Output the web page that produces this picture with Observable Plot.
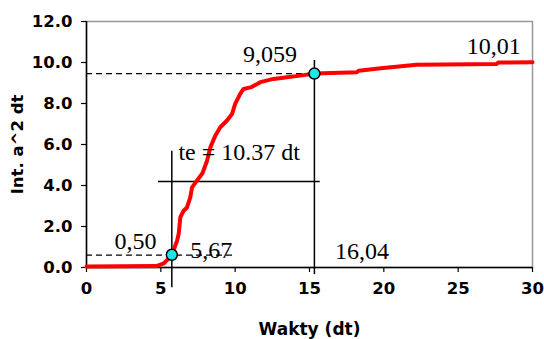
<!DOCTYPE html>
<html><head><meta charset="utf-8">
<script src="https://cdn.jsdelivr.net/npm/d3@7"></script>
<script src="https://cdn.jsdelivr.net/npm/@observablehq/plot@0.6"></script>
<style>body{margin:0;background:#fff}</style>
</head><body><div id="chart"></div>
<script>
// Curve: Int. a^2 dt versus Wakty (dt)
const curveT = [0, 4.7, 5.2, 5.5, 5.74, 6.09, 6.2, 6.31, 6.53, 6.76, 6.98, 7.1, 7.43, 7.8, 8.11, 8.33, 8.66, 9.0, 9.45, 9.79, 10.0, 10.34, 10.56, 11.1, 11.69, 12.58, 13.48, 14.37, 15.33, 18.2, 18.3, 19.8, 22.2, 27.6, 27.7, 30];
const curveV = [0.05, 0.07, 0.2, 0.42, 0.62, 1.3, 1.63, 2.44, 2.77, 2.93, 3.42, 3.91, 4.24, 4.6, 5.21, 5.86, 6.43, 6.84, 7.17, 7.49, 7.98, 8.47, 8.71, 8.8, 9.04, 9.2, 9.28, 9.36, 9.46, 9.53, 9.6, 9.72, 9.89, 9.93, 10.0, 10.01];
const xTicks = [0, 5, 10, 15, 20, 25, 30];
const yTicks = [0, 2, 4, 6, 8, 10, 12];
// Marked points
const pointT = [5.74, 15.33];
const pointV = [0.62, 9.46];
// Annotations
const labelText = ["9,059", "10,01", "te = 10.37 dt", "0,50", "5,67", "16,04"];
const labelT = [10.52, 25.57, 6.18, 1.88, 6.98, 16.72];
const labelV = [10.03, 10.42, 5.25, 0.9, 0.47, 0.41];
// Dashed horizontal guides
const dashT1 = [0, 0];
const dashT2 = [15.33, 9.9];
const dashV = [9.46, 0.6];
// Solid vertical guides
const vertT = [5.74, 15.33];
const vertV1 = [5.67, 10.1];
const vertV2 = [-0.99, -0.35];
// Solid horizontal guide
const horT1 = [4.84];
const horT2 = [15.72];
const horV = [4.19];

const curve = curveT.map((t, i) => ({t, v: curveV[i]}));
const points = pointT.map((t, i) => ({t, v: pointV[i]}));
const labels = labelText.map((s, i) => ({s, t: labelT[i], v: labelV[i]}));
const dashes = dashV.map((v, i) => ({v, t1: dashT1[i], t2: dashT2[i]}));
const verts = vertT.map((t, i) => ({t, v1: vertV1[i], v2: vertV2[i]}));
const hors = horV.map((v, i) => ({v, t1: horT1[i], t2: horT2[i]}));

const chart = Plot.plot({
  width: 544, height: 339,
  marginLeft: 86, marginRight: 12, marginTop: 21, marginBottom: 72,
  style: {fontFamily: "DejaVu Sans", fontSize: "16.5px", fontWeight: "bold", color: "#000", background: "#fff", overflow: "visible"},
  x: {domain: [0, 30]},
  y: {domain: [0, 12]},
  marks: [
    Plot.frame({stroke: "#999", strokeWidth: 1.5}),
    Plot.axisX({ticks: xTicks, tickSize: 5, tickPadding: 10, tickFormat: d3.format("d"), label: null, stroke: "#000", strokeWidth: 1.2}),
    Plot.axisX({ticks: [], label: "Wakty (dt)", labelAnchor: "center", labelOffset: 67, labelArrow: "none", fontSize: 17}),
    Plot.axisY({ticks: yTicks, tickSize: 5, tickPadding: 9, tickFormat: d3.format(".1f"), label: null, stroke: "#000", strokeWidth: 1.2}),
    Plot.axisY({ticks: [], label: "Int. a^2 dt", labelAnchor: "center", labelOffset: 75, labelArrow: "none", fontSize: 16.5}),
    Plot.ruleX([0], {stroke: "#000", strokeWidth: 1.5}),
    Plot.ruleY([0], {stroke: "#000", strokeWidth: 1.5}),
    Plot.ruleY(dashes, {y: "v", x1: "t1", x2: "t2", stroke: "#000", strokeWidth: 1.3, strokeDasharray: "6,4"}),
    Plot.ruleX(verts, {x: "t", y1: "v1", y2: "v2", stroke: "#000", strokeWidth: 1.5}),
    Plot.ruleY(hors, {y: "v", x1: "t1", x2: "t2", stroke: "#000", strokeWidth: 1.5}),
    Plot.line(curve, {x: "t", y: "v", stroke: "#ff0000", strokeWidth: 4, strokeLinejoin: "miter"}),
    Plot.dot(points, {x: "t", y: "v", r: 5.5, fill: "#1ee6e6", stroke: "#000", strokeWidth: 1.5}),
    Plot.text(labels, {x: "t", y: "v", text: "s", textAnchor: "start", lineAnchor: "bottom", fontFamily: "Liberation Serif", fontSize: 24, fontWeight: "normal", fill: "#000"})
  ]
});
document.getElementById("chart").appendChild(chart);
</script>
</body></html>
